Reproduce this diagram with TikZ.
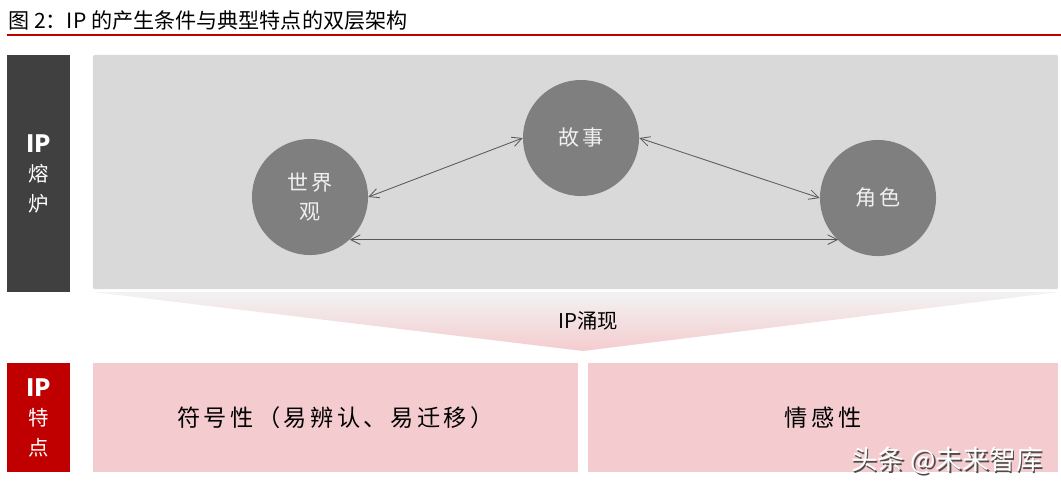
\documentclass[tikz,border=0pt]{standalone}
\usepackage{fontspec}
\setmainfont{Liberation Sans}
\newfontfamily\cjk{Noto Sans CJK SC}
\newfontfamily\cjkwide[LetterSpace=15]{Noto Sans CJK SC}
\usetikzlibrary{arrows.meta,positioning}
\definecolor{rDark}{HTML}{404040}
\definecolor{rRed}{HTML}{C00000}
\definecolor{rPanel}{HTML}{D9D9D9}
\definecolor{rCircle}{HTML}{7F7F7F}
\definecolor{rPink}{HTML}{F4CCCF}
\definecolor{rArrow}{HTML}{595959}
\tikzset{
  sidebox/.style={fill=#1, text=white, align=center, inner sep=0pt,
                  minimum width=1.575cm, font=\cjk\fontsize{14.5}{21}\selectfont},
  bubble/.style={circle, fill=rCircle, minimum size=2.9cm, inner sep=0pt,
                 align=center, text=white!94!black,
                 font=\cjkwide\fontsize{15}{20.5}\selectfont},
  pinkbox/.style={fill=rPink, inner sep=0pt, minimum height=2.725cm,
                  font=\cjkwide\fontsize{16.5}{20}\selectfont},
  link/.style={{Straight Barb[length=2.4mm,width=2.4mm]}-{Straight Barb[length=2.4mm,width=2.4mm]},
               draw=rArrow, line width=0.6pt},
}

\begin{document}
\begin{tikzpicture}[x=0.025cm, y=-0.025cm]
  \useasboundingbox (0,0) rectangle (1061,488);
  \node[anchor=west, font=\cjk\fontsize{15}{16}\selectfont, inner sep=0pt] (title) at (8,21)
    {图 2：IP 的产生条件与典型特点的双层架构};
  \draw[rRed, line width=1.2pt] (7,35) -- (1061,35);

  \node[sidebox=rDark, minimum height=5.925cm] (furnace) at (38.5,173.5)
    {\textbf{\fontsize{17}{21}\selectfont IP}\\熔\\炉};
  \node[fill=rPanel, rounded corners=1pt, inner sep=0pt, minimum width=24.125cm,
    minimum height=5.85cm] (panel) at (575.5,172) {};

  \node[bubble] (sj) at (310,197) {世界\\观};
  \node[bubble] (gs) at (581,138) {故事};
  \node[bubble] (js) at (878,198) {角色};
  \draw[link] (sj.east) -- (gs.west);
  \draw[link] (gs.east) -- (js.west);
  \draw[link] (sj.-47) -- (sj.-47 -| js.-133);

  \shade[top color=black!5, bottom color=rPink] (93,292) -- (1058,292) -- (583,351) -- cycle;
  \node[font=\cjk\fontsize{14.5}{16}\selectfont] (emerge) at (588,321) {IP涌现};

  \node[sidebox=rRed, minimum height=2.725cm] (traits) at (38.5,417.5)
    {\textbf{\fontsize{17}{21}\selectfont IP}\\特\\点};
  \node[pinkbox, minimum width=12.125cm] (symbol) at (335.5,417.5) {符号性（易辨认、易迁移）};
  \node[pinkbox, minimum width=11.75cm] (emotion) at (823,417.5) {情感性};

  \node[font=\cjk\fontsize{19}{20}\selectfont, text=black!70] (wmshade) at (948.5,462.5) {头条 @未来智库};
  \node[font=\cjk\fontsize{19}{20}\selectfont, text=white] (wm) at (947,461) {头条 @未来智库};
\end{tikzpicture}
\end{document}
